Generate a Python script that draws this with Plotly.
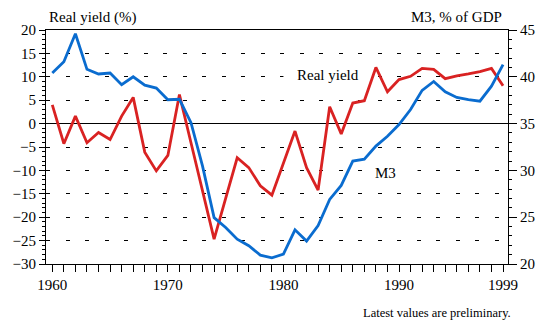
import plotly.graph_objects as go

# Annual series, 1960-1999
years = list(range(1960, 2000))

# Real bond yield, % (left axis)
real_yield = [4.0, -4.3, 1.6, -4.1, -1.9, -3.4, 1.6, 5.6, -6.1, -10.1,
              -6.8, 6.2, -4.1, -14.4, -24.7, -16.0, -7.3, -9.4, -13.3, -15.3,
              -8.5, -1.6, -9.4, -14.2, 3.6, -2.2, 4.4, 4.9, 12.0, 6.8,
              9.4, 10.1, 11.8, 11.6, 9.6, 10.2, 10.6, 11.1, 11.8, 8.1]

# M3 money stock, % of GDP (right axis)
m3 = [40.4, 41.6, 44.6, 40.8, 40.3, 40.4, 39.15, 40.0, 39.1, 38.8,
      37.55, 37.6, 35.1, 30.45, 24.95, 23.9, 22.65, 21.95, 20.95, 20.65,
      21.05, 23.65, 22.45, 24.1, 26.9, 28.4, 31.0, 31.2, 32.6, 33.65,
      34.9, 36.5, 38.55, 39.5, 38.4, 37.8, 37.55, 37.4, 39.0, 41.3]

x_ticks = [1960, 1970, 1980, 1990, 1999]

FONT = "Liberation Serif"
BLUE = "#0a6ccf"
RED = "#d92222"

fig = go.Figure()
fig.add_trace(go.Scatter(x=years, y=m3, yaxis="y2", mode="lines",
                         line=dict(color=BLUE, width=2.8), name="M3"))
fig.add_trace(go.Scatter(x=years, y=real_yield, yaxis="y", mode="lines",
                         line=dict(color=RED, width=2.8), name="Real yield"))

# White panels behind the in-plot series labels (between grid and traces)
fig.add_shape(type="rect", xref="x", yref="y", x0=1980.0, x1=1986.8,
              y0=8.5, y1=12.3, fillcolor="white", line_width=0, layer="between")
fig.add_shape(type="rect", xref="x", yref="y", x0=1986.9, x1=1991.6,
              y0=-12.5, y1=-8.3, fillcolor="white", line_width=0, layer="between")

fig.add_annotation(x=1981.0, y=10.4, xref="x", yref="y", text="Real yield",
                   showarrow=False, xanchor="left", yanchor="middle",
                   font=dict(family=FONT, size=15, color="black"))
fig.add_annotation(x=1988.8, y=-10.5, xref="x", yref="y", text="M3",
                   showarrow=False, xanchor="center", yanchor="middle",
                   font=dict(family=FONT, size=15, color="black"))

fig.add_annotation(x=0, y=1, xref="paper", yref="paper", text="Real yield (%)",
                   showarrow=False, xanchor="left", yanchor="middle",
                   xshift=1, yshift=13,
                   font=dict(family=FONT, size=15, color="black"))
fig.add_annotation(x=1, y=1, xref="paper", yref="paper", text="M3, % of GDP",
                   showarrow=False, xanchor="right", yanchor="middle",
                   xshift=-4, yshift=13,
                   font=dict(family=FONT, size=15, color="black"))
fig.add_annotation(x=1, y=0, xref="paper", yref="paper",
                   text="Latest values are preliminary.",
                   showarrow=False, xanchor="right", yanchor="middle",
                   xshift=5, yshift=-49,
                   font=dict(family=FONT, size=12.5, color="black"))

fig.update_layout(
    width=546, height=324,
    margin=dict(l=46, r=38, t=30, b=60),
    paper_bgcolor="white", plot_bgcolor="white",
    showlegend=False,
    font=dict(family=FONT, size=15, color="black"),
    xaxis=dict(
        range=[1959.455, 1999.43], tickmode="array", tickvals=x_ticks,
        ticks="outside", ticklen=7, tickcolor="black", tickwidth=1,
        showline=True, linecolor="black", linewidth=1, mirror=True,
        showgrid=False, zeroline=False,
        tickfont=dict(family=FONT, size=15, color="black"),
        minor=dict(tick0=1960, dtick=1, ticks="outside", ticklen=7,
                   tickcolor="black", tickwidth=1, showgrid=False),
    ),
    yaxis=dict(
        range=[-30, 20], tick0=0, dtick=5,
        ticks="outside", ticklen=6, tickcolor="black", tickwidth=1,
        showline=True, linecolor="black", linewidth=1,
        showgrid=True, gridcolor="black", gridwidth=1, griddash="4px,15.5px",
        zeroline=True, zerolinecolor="black", zerolinewidth=1,
        tickfont=dict(family=FONT, size=15, color="black"),
        minor=dict(dtick=1, ticks="outside", ticklen=3, tickcolor="black",
                   tickwidth=1, showgrid=False),
    ),
    yaxis2=dict(
        range=[20, 45], tick0=20, dtick=5, overlaying="y", side="right",
        ticks="outside", ticklen=8, tickcolor="black", tickwidth=1,
        showline=True, linecolor="black", linewidth=1,
        showgrid=False, zeroline=False,
        tickfont=dict(family=FONT, size=15, color="black"),
        minor=dict(dtick=1, ticks="outside", ticklen=3, tickcolor="black",
                   tickwidth=1, showgrid=False),
    ),
)

fig.write_html("out.html")
